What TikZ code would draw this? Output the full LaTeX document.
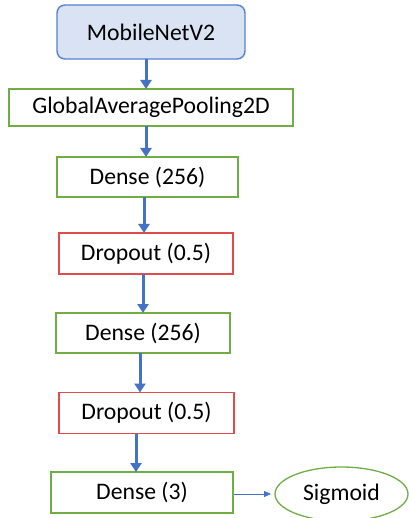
\documentclass[tikz,border=0pt]{standalone}
\usepackage{fontspec}
\setmainfont{Carlito}
\usetikzlibrary{arrows.meta,shapes.geometric}
\definecolor{boxgreen}{HTML}{70AD47}
\definecolor{boxred}{HTML}{E04B4B}
\definecolor{arrblue}{HTML}{4472C4}
\definecolor{topfill}{HTML}{DAE3F3}
\definecolor{topdraw}{HTML}{5282D0}
\begin{document}
\begin{tikzpicture}[x=1pt,y=-1pt,
  every node/.style={font=\fontsize{23.7}{26}\selectfont, inner sep=0pt, outer sep=0pt},
  topbox/.style={draw=topdraw, fill=topfill, line width=1.4pt, rounded corners=8pt, rectangle},
  greenbox/.style={draw=boxgreen, line width=1.3pt, rectangle},
  redbox/.style={draw=boxred, line width=1.3pt, rectangle},
  ovalbox/.style={draw=boxgreen, line width=1.3pt, ellipse},
  flow/.style={draw=arrblue, line width=3pt, -{Triangle[width=11pt,length=9pt]}},
  thinflow/.style={draw=arrblue, line width=0.8pt, -{Triangle[width=6pt,length=7pt]}}]
\fill[white] (0,0) rectangle (408,518);
\useasboundingbox (0,0) rectangle (408,518);
\node[topbox, minimum width=188pt, minimum height=54pt] (m) at (151,32) {MobileNetV2};
\node[greenbox, minimum width=284pt, minimum height=37pt] (g) at (151,107.5) {GlobalAveragePooling2D};
\node[greenbox, minimum width=181pt, minimum height=40pt] (d1) at (147.5,177) {Dense (256)};
\node[redbox, minimum width=174pt, minimum height=41pt] (p1) at (146,253.5) {Dropout (0.5)};
\node[greenbox, minimum width=174pt, minimum height=40pt] (d2) at (143,333) {Dense (256)};
\node[redbox, minimum width=175pt, minimum height=41pt] (p2) at (146.5,413) {Dropout (0.5)};
\node[greenbox, minimum width=182pt, minimum height=41pt] (d3) at (142,492.5) {Dense (3)};
\node[ovalbox, minimum width=133pt, minimum height=54pt] (s) at (341.5,494) {Sigmoid};
\draw[flow] ([xshift=-5pt]m.south) -- ([xshift=-5pt]g.north);
\draw[flow] ([xshift=-5pt]g.south) -- ([xshift=-1.5pt]d1.north);
\draw[flow] ([xshift=-3.5pt]d1.south) -- ([xshift=-2pt]p1.north);
\draw[flow] ([xshift=-3pt]p1.south) -- ([xshift=0pt]d2.north);
\draw[flow] ([xshift=-3pt]d2.south) -- ([xshift=-6.5pt]p2.north);
\draw[flow] ([xshift=-10.5pt]p2.south) -- ([xshift=-6pt]d3.north);
\draw[thinflow] ([xshift=1pt,yshift=-1.5pt]d3.east) -- ([xshift=-4pt]s.west);
\end{tikzpicture}
\end{document}
